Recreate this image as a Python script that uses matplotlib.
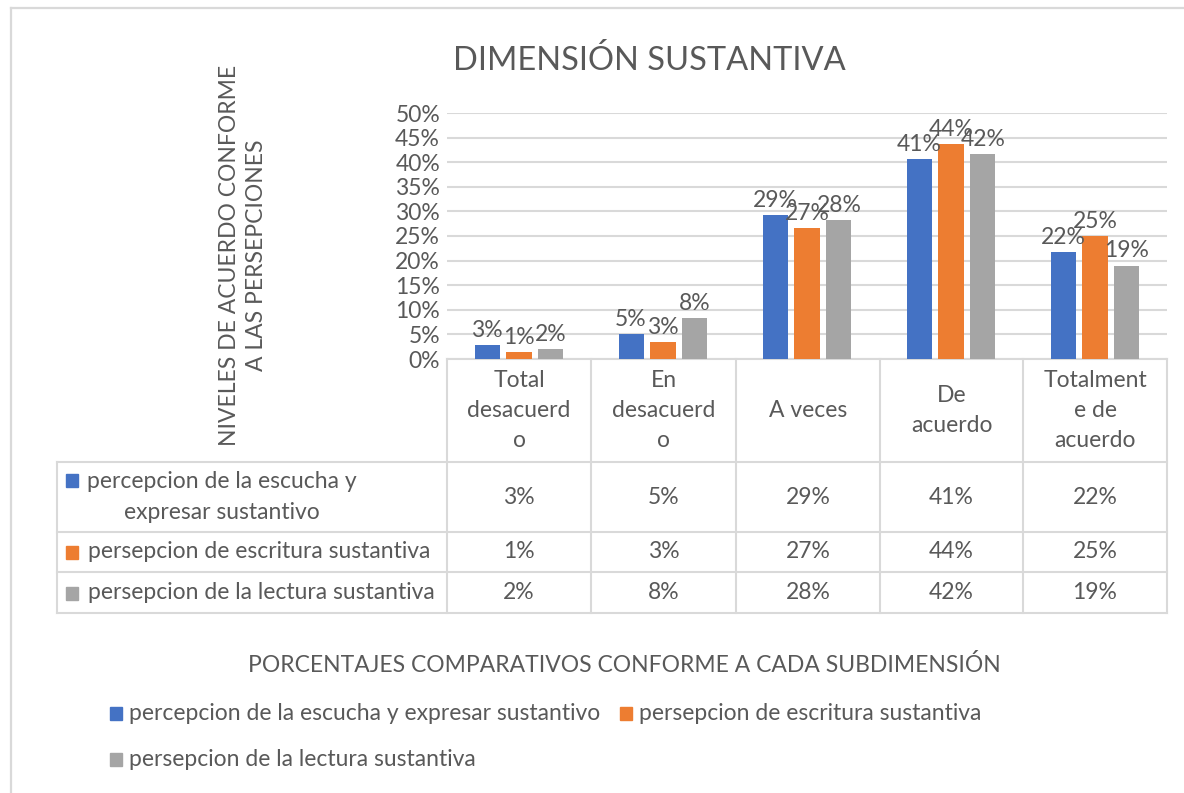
import matplotlib
matplotlib.use("Agg")
import matplotlib.pyplot as plt
from matplotlib.patches import Rectangle
from matplotlib.ticker import PercentFormatter
import numpy as np

plt.rcParams["font.family"] = ["Lato", "DejaVu Sans"]

# ---- data ----
CATEGORIES = ["Total\ndesacuerd\no", "En\ndesacuerd\no", "A veces",
              "De\nacuerdo", "Totalment\ne de\nacuerdo"]
SERIES = ["percepcion de la escucha y expresar sustantivo",
          "persepcion de escritura sustantiva",
          "persepcion de la lectura sustantiva"]
ESCUCHA = [0.028, 0.050, 0.293, 0.406, 0.218]
ESCRITURA = [0.014, 0.034, 0.266, 0.437, 0.249]
LECTURA = [0.020, 0.083, 0.282, 0.416, 0.190]
COLORS = ["#4472C4", "#ED7D31", "#A5A5A5"]
TXT = "#595959"
LINE = "#D9D9D9"
FS = 16.5

W, H = 1184, 793
fig = plt.figure(figsize=(W / 100, H / 100), dpi=100)

# overlay in pixel coordinates for frame, table and legend
ov = fig.add_axes([0, 0, 1, 1])
ov.set_xlim(0, W)
ov.set_ylim(H, 0)
ov.axis("off")

# chart frame
ov.plot([11, W + 5], [8, 8], color=LINE, lw=1.6)
ov.plot([11, 11], [8, H + 5], color=LINE, lw=1.6)

# ---- bar chart ----
AX_L, AX_R, AX_T, AX_B = 447, 1167, 113, 359
ax = fig.add_axes([AX_L / W, 1 - AX_B / H, (AX_R - AX_L) / W, (AX_B - AX_T) / H])
x = np.arange(len(CATEGORIES))
step, width = 0.222, 0.174
for i, (vals, col) in enumerate(zip([ESCUCHA, ESCRITURA, LECTURA], COLORS)):
    pos = x + (i - 1) * step
    ax.bar(pos, vals, width=width, color=col, zorder=3)
    for px_, v in zip(pos, vals):
        ax.annotate(f"{v:.0%}", (px_, v), xytext=(0, 3), textcoords="offset points",
                    ha="center", va="bottom", fontsize=FS, color=TXT, zorder=4)
ax.set_xlim(-0.5, len(CATEGORIES) - 0.5)
ax.set_ylim(0, 0.5)
ax.set_yticks(np.arange(0, 0.51, 0.05))
ax.yaxis.set_major_formatter(PercentFormatter(1.0, decimals=0))
ax.set_xticks([])
ax.grid(axis="y", color=LINE, lw=1.5, zorder=0)
for s in ax.spines.values():
    s.set_visible(False)
ax.tick_params(axis="y", length=0, labelsize=FS, labelcolor=TXT, pad=5)
ax.patch.set_alpha(0)

# title and axis label
ov.text(649, 60, "DIMENSIÓN SUSTANTIVA", ha="center", va="center", fontsize=23.5, color=TXT)
ov.text(243, 255, "NIVELES DE ACUERDO CONFORME\nA LAS PERSEPCIONES", rotation=90,
        ha="center", va="center", fontsize=FS, color=TXT, linespacing=1.35)

# ---- data table ----
COLS = [447, 591, 736, 880, 1023, 1167]
ROWS = [359, 462, 532, 572, 613]
for cx in COLS:
    ov.plot([cx, cx], [ROWS[0], ROWS[-1]], color=LINE, lw=1.5)
ov.plot([57, 57], [ROWS[1], ROWS[-1]], color=LINE, lw=1.5)
ov.plot([COLS[0], COLS[-1]], [ROWS[0], ROWS[0]], color=LINE, lw=1.5)
for ry in ROWS[1:]:
    ov.plot([57, COLS[-1]], [ry, ry], color=LINE, lw=1.5)

for k, cat in enumerate(CATEGORIES):
    cx = (COLS[k] + COLS[k + 1]) / 2
    ov.text(cx, (ROWS[0] + ROWS[1]) / 2, cat, ha="center", va="center",
            fontsize=FS, color=TXT, linespacing=1.55)

for r, (vals, col, name) in enumerate(zip([ESCUCHA, ESCRITURA, LECTURA], COLORS, SERIES)):
    cy = (ROWS[r + 1] + ROWS[r + 2]) / 2
    for k, v in enumerate(vals):
        ov.text((COLS[k] + COLS[k + 1]) / 2, cy, f"{v:.0%}", ha="center", va="center",
                fontsize=FS, color=TXT)
    if r == 0:
        ov.add_patch(Rectangle((66, cy - 23), 12, 13, color=col))
        ov.text(222, cy, "percepcion de la escucha y\nexpresar sustantivo", ha="center",
                va="center", fontsize=FS, color=TXT, linespacing=1.6)
    else:
        ov.add_patch(Rectangle((66, cy - 6), 12, 13, color=col))
        ov.text(88, cy, name, ha="left", va="center", fontsize=FS, color=TXT)

# ---- bottom title and legend ----
ov.text(624, 665, "PORCENTAJES COMPARATIVOS CONFORME A CADA SUBDIMENSIÓN",
        ha="center", va="center", fontsize=FS, color=TXT)
LEG = [(110, 713), (620, 713), (110, 759)]
for (lx, ly), name, col in zip(LEG, SERIES, COLORS):
    ov.add_patch(Rectangle((lx, ly - 6), 12, 13, color=col))
    ov.text(lx + 19, ly, name, ha="left", va="center", fontsize=FS, color=TXT)

fig.savefig("out.png", dpi=100)
